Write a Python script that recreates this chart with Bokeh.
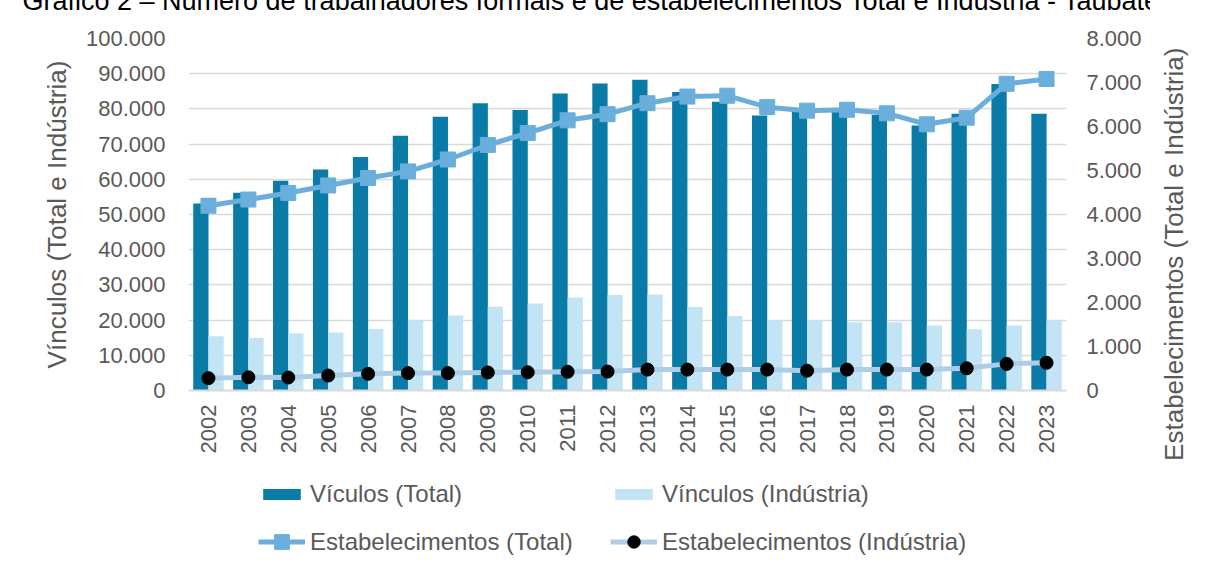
from math import pi
from bokeh.plotting import figure
from bokeh.layouts import column, row
from bokeh.models import (Range1d, LinearAxis, FixedTicker, SingleIntervalTicker,
                          CustomJSTickFormatter, Legend, LegendItem, ColumnDataSource)
from bokeh.transform import dodge
from bokeh.embed import file_html
from bokeh.resources import INLINE

# ---------------- data ----------------
anos = [2002, 2003, 2004, 2005, 2006, 2007, 2008, 2009, 2010, 2011, 2012,
        2013, 2014, 2015, 2016, 2017, 2018, 2019, 2020, 2021, 2022, 2023]
vinculos_total = [53100, 56200, 59600, 62800, 66300, 72400, 77800, 81600, 79700, 84400, 87200,
                  88300, 84800, 82000, 78100, 79100, 79500, 78300, 75300, 78600, 87100, 78600]
vinculos_industria = [15400, 14900, 16200, 16500, 17500, 19900, 21300, 23800, 24700, 26400, 27100,
                      27300, 23700, 21200, 19900, 19900, 19400, 19400, 18500, 17400, 18500, 19900]
estab_total = [4200, 4340, 4490, 4660, 4830, 4980, 5250, 5580, 5850, 6140, 6280,
               6530, 6680, 6700, 6440, 6360, 6380, 6300, 6050, 6200, 6970, 7080]
estab_industria = [280, 300, 295, 340, 380, 395, 395, 410, 415, 425, 430,
                   475, 475, 475, 475, 450, 475, 475, 475, 505, 605, 630]

titulo = "Gráfico 2 – Número de trabalhadores formais e de estabelecimentos Total e Indústria - Taubaté"
eixo_esq = "Vínculos (Total e Indústria)"
eixo_dir = "Estabelecimentos (Total e Indústria)"
leg_vt = "Vículos (Total)"
leg_vi = "Vínculos (Indústria)"
leg_et = "Estabelecimentos (Total)"
leg_ei = "Estabelecimentos (Indústria)"

# ---------------- style ----------------
C_VT = "#0A7BA7"
C_VI = "#C3E4F4"
C_ET = "#6AAFDB"
C_EI = "#AECDE7"
C_TXT = "#595959"
C_GRID = "#D9D9D9"
FONT = "Liberation Sans"

SHIFT = 76                        # page pulled up so the title is cut like the reference
W_ALL = 1204
W_P, W_R = 1150, 54
H1 = 462 + SHIFT
H2 = 104
FL, FR = 188, 1066                # frame x (page)
FT, FB = 38 + SHIFT, 390 + SHIFT  # frame y (canvas of p)

src = ColumnDataSource(dict(ano=anos, vt=vinculos_total, vi=vinculos_industria,
                            et=estab_total, ei=estab_industria))

p = figure(width=W_P, height=H1, output_backend="svg", toolbar_location=None,
           x_range=Range1d(2001.5, 2023.5), y_range=Range1d(0, 100000),
           min_border_left=FL, min_border_right=W_P - FR,
           min_border_top=FT, min_border_bottom=H1 - FB)
p.extra_y_ranges = {"estab": Range1d(0, 8000)}
p.outline_line_color = None
p.background_fill_color = "white"
p.border_fill_color = "white"

# title: only its lower part ends up inside the window
p.title.text = titulo
p.title.align = "left"
p.title.offset = 22 - FL
p.title.standoff = 46
p.title.text_font = FONT
p.title.text_font_size = "27px"
p.title.text_font_style = "normal"
p.title.text_color = "black"

bar_vt = dict(fill_color=C_VT, line_color=None)
bar_vi = dict(fill_color=C_VI, line_color=None)
ln_et = dict(line_color=C_ET, line_width=5)
mk_et = dict(marker="square", size=15, fill_color=C_ET, line_color=C_ET)
ln_ei = dict(line_color=C_EI, line_width=5)
mk_ei = dict(marker="circle", size=13, fill_color="black", line_color="black")

# bars
p.vbar(x=dodge("ano", -0.19), top="vt", width=0.383, source=src, **bar_vt)
p.vbar(x=dodge("ano", 0.19), top="vi", width=0.383, source=src, **bar_vi)
# lines
p.line("ano", "et", source=src, y_range_name="estab", **ln_et)
p.scatter("ano", "et", source=src, y_range_name="estab", **mk_et)
p.line("ano", "ei", source=src, y_range_name="estab", **ln_ei)
p.scatter("ano", "ei", source=src, y_range_name="estab", **mk_ei)

fmt_code = "return Math.round(tick).toString().replace(/\\B(?=(\\d{3})+(?!\\d))/g, '.');"

def style_axis(ax, standoff):
    ax.axis_line_color = None
    ax.major_tick_line_color = None
    ax.minor_tick_line_color = None
    ax.major_tick_out = 0
    ax.major_tick_in = 0
    ax.major_label_standoff = standoff
    ax.major_label_text_font = FONT
    ax.major_label_text_font_size = "22px"
    ax.major_label_text_color = C_TXT

# x axis
xa = p.xaxis[0]
xa.ticker = FixedTicker(ticks=anos)
xa.major_label_orientation = pi / 2
style_axis(xa, 14)
xa.axis_line_color = C_GRID
xa.axis_line_width = 2

# left axis
ya = p.yaxis[0]
ya.ticker = SingleIntervalTicker(interval=10000, num_minor_ticks=0)
ya.formatter = CustomJSTickFormatter(code=fmt_code)
style_axis(ya, 23)
ya.axis_label = eixo_esq
ya.axis_label_standoff = 11
ya.axis_label_text_font = FONT
ya.axis_label_text_font_size = "26px"
ya.axis_label_text_font_style = "normal"
ya.axis_label_text_color = C_TXT

# right axis
ra = LinearAxis(y_range_name="estab",
                ticker=SingleIntervalTicker(interval=1000, num_minor_ticks=0),
                formatter=CustomJSTickFormatter(code=fmt_code))
style_axis(ra, 20)
p.add_layout(ra, "right")

p.xgrid.visible = False
p.ygrid.grid_line_color = C_GRID
p.ygrid.grid_line_width = 1.5

# ---------------- right-hand title strip (reads bottom-to-top) ----------------
r = figure(width=W_R, height=H1, output_backend="svg", toolbar_location=None,
           x_range=Range1d(0, 1), y_range=Range1d(0, 1),
           x_axis_location=None, y_axis_location="left",
           min_border_left=38, min_border_right=0,
           min_border_top=FT, min_border_bottom=H1 - FB)
r.outline_line_color = None
r.grid.visible = False
r.border_fill_color = "white"
r.background_fill_color = "white"
rax = r.yaxis[0]
rax.ticker = FixedTicker(ticks=[])
rax.axis_line_color = None
rax.major_tick_line_color = None
rax.minor_tick_line_color = None
rax.major_tick_out = 0
rax.major_tick_in = 0
# trailing no-break spaces move the centred text down to where the reference has it
rax.axis_label = eixo_dir + "\u00a0" * 11
rax.axis_label_standoff = 0
rax.axis_label_text_font = FONT
rax.axis_label_text_font_size = "26px"
rax.axis_label_text_font_style = "normal"
rax.axis_label_text_color = C_TXT

# ---------------- legend strip ----------------
q = figure(width=W_ALL, height=H2, output_backend="svg", toolbar_location=None,
           x_range=Range1d(0, 1), y_range=Range1d(0, 1),
           x_axis_location=None, y_axis_location=None,
           min_border_left=FL, min_border_right=W_ALL - FR,
           min_border_top=0, min_border_bottom=0)
q.outline_line_color = None
q.grid.visible = False
q.background_fill_color = "white"
q.border_fill_color = "white"

# legend-only renderers (one point kept outside the visible range)
e = ColumnDataSource(dict(x=[-5], y=[-5]))
g_vt = q.vbar(x="x", top="y", width=0.1, source=e, **bar_vt)
g_vi = q.vbar(x="x", top="y", width=0.1, source=e, **bar_vi)
g_lt = q.line("x", "y", source=e, **ln_et)
g_st = q.scatter("x", "y", source=e, **mk_et)
g_li = q.line("x", "y", source=e, **ln_ei)
g_si = q.scatter("x", "y", source=e, **mk_ei)

ROW1, ROW2 = H2 - 32, H2 - 79.5   # centre of each legend row, from the strip bottom

def make_legend(label, rends, x, gh):
    item_h = max(gh, 27)
    return Legend(items=[LegendItem(label=label, renderers=rends)],
                  location=(x - FL, (ROW1 if gh == 14 else ROW2) - item_h / 2),
                  orientation="vertical",
                  glyph_width=47, glyph_height=gh, label_height=27, label_standoff=5,
                  spacing=0, padding=0, margin=0, border_line_color=None,
                  background_fill_alpha=0, label_text_font=FONT,
                  label_text_font_size="24px", label_text_color=C_TXT)

q.add_layout(make_legend(leg_vt, [g_vt], 258, 14))
q.add_layout(make_legend(leg_vi, [g_vi], 610, 14))
q.add_layout(make_legend(leg_et, [g_lt, g_st], 258, 37))
q.add_layout(make_legend(leg_ei, [g_li, g_si], 610, 31))

page = column(row(p, r, spacing=0), q, spacing=0,
              styles={"margin-top": "-%dpx" % SHIFT})
open("out.html", "w").write(file_html(page, INLINE))
